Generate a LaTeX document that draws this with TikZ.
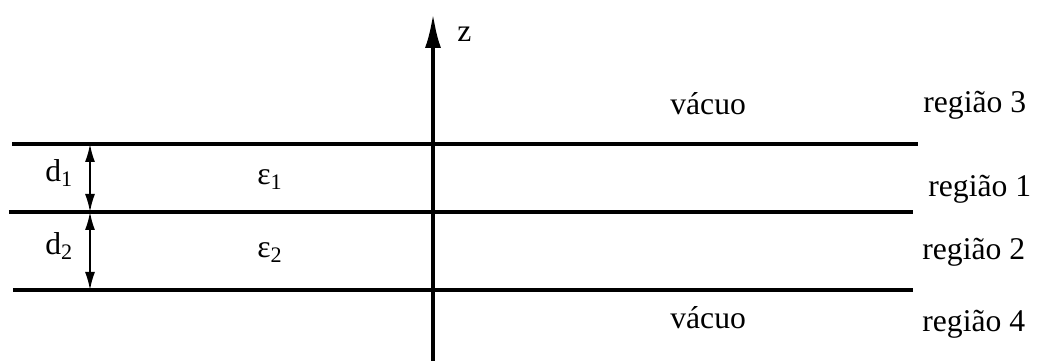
\documentclass[tikz,border=0pt]{standalone}
\usepackage{fontspec}
\setmainfont{Liberation Serif}
\usetikzlibrary{arrows.meta, positioning}

\begin{document}
\begin{tikzpicture}[
        layer/.style={line width=2.1pt, draw=black},
        axis/.style={line width=2.4pt, -{Latex[length=7mm, width=3.2mm]}},
        gap/.style={line width=1pt, {Latex[length=3.6mm, width=2mm]}-{Latex[length=3.6mm, width=2mm]}},
        txt/.style={anchor=base west, inner sep=0pt, font=\fontsize{18}{22}\selectfont}
    ]
        \useasboundingbox (0,0) rectangle (20.78,7.22);

        % Interfaces
        \coordinate (topw) at (0.24, 4.34);  \coordinate (tope) at (18.36, 4.34);
        \coordinate (midw) at (0.18, 2.98);  \coordinate (mide) at (18.26, 2.98);
        \coordinate (botw) at (0.26, 1.42);  \coordinate (bote) at (18.26, 1.42);
        \draw[layer] (topw) -- (tope);
        \draw[layer] (midw) -- (mide);
        \draw[layer] (botw) -- (bote);

        % z axis
        \coordinate (zbase) at (8.66, 0);
        \coordinate (ztip) at (8.66, 6.96);
        \draw[axis] (zbase) -- (ztip);
        \node[txt] (zlab) at (9.14, 6.38) {z};

        % Thicknesses
        \coordinate (dtop) at (1.80, 4.34);
        \coordinate (dmid) at (1.80, 2.98);
        \coordinate (dbot) at (1.80, 1.42);
        \draw[gap] (dtop) -- (dmid);
        \draw[gap] (dmid) -- (dbot);
        \node[txt] (d1) at (0.90, 3.58) {d\textsubscript{1}};
        \node[txt] (d2) at (0.90, 2.12) {d\textsubscript{2}};

        % Permittivities
        \node[txt] (eps1) at (5.14, 3.52) {ε\textsubscript{1}};
        \node[txt] (eps2) at (5.14, 2.06) {ε\textsubscript{2}};

        % Vacuum
        \node[txt] (vac3) at (13.40, 4.92) {vácuo};
        \node[txt] (vac4) at (13.40, 0.64) {vácuo};

        % Regions
        \node[txt] (reg3) at (18.46, 4.96) {região 3};
        \node[txt] (reg1) at (18.56, 3.28) {região 1};
        \node[txt] (reg2) at (18.44, 2.02) {região 2};
        \node[txt] (reg4) at (18.44, 0.58) {região 4};
    \end{tikzpicture}
\end{document}
